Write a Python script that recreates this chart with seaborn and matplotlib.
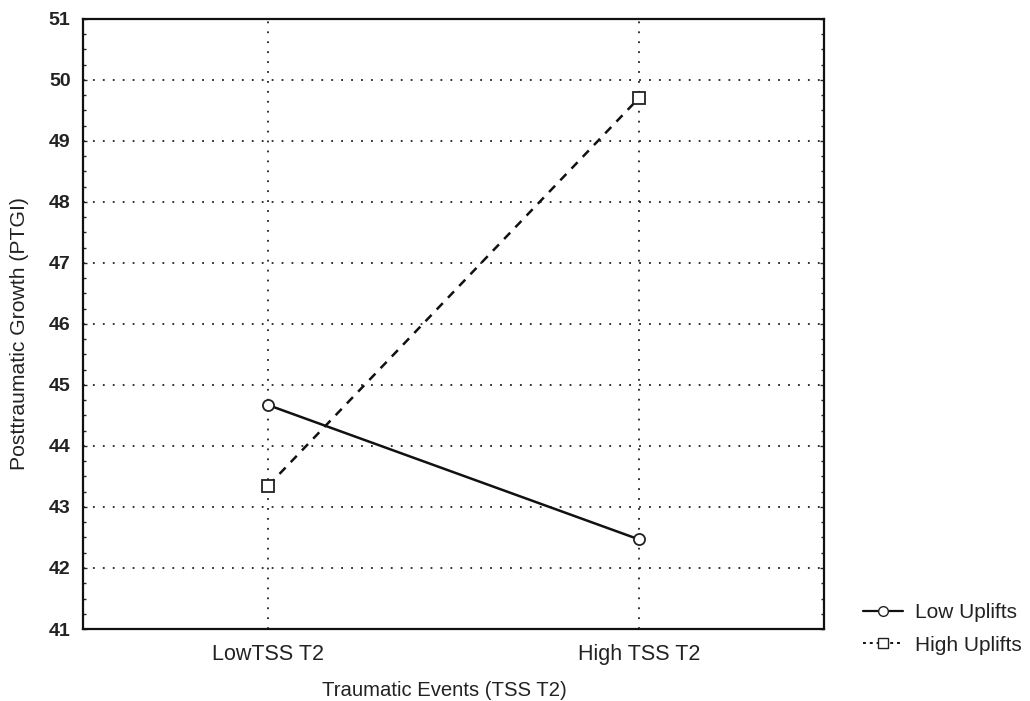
import matplotlib
matplotlib.use("Agg")
import matplotlib.pyplot as plt
import seaborn as sns
import pandas as pd
from matplotlib.ticker import MultipleLocator
from matplotlib.lines import Line2D

categories = ["LowTSS T2", "High TSS T2"]
low_uplifts = [44.67, 42.47]
high_uplifts = [43.35, 49.70]
series_names = ["Low Uplifts", "High Uplifts"]
y_ticks = list(range(41, 52))

sns.set_theme(style="white")
plt.rcParams['font.family'] = ['Liberation Sans', 'DejaVu Sans']

df = pd.DataFrame({
    "x": [0, 1, 0, 1],
    "y": low_uplifts + high_uplifts,
    "group": [series_names[0]] * 2 + [series_names[1]] * 2,
})

fig = plt.figure(figsize=(10.30, 7.01), dpi=100)
ax = fig.add_axes([0.0806, 0.1027, 0.7194, 0.8703])

sns.lineplot(data=df, x="x", y="y", style="group", ax=ax,
             markers={series_names[0]: "o", series_names[1]: "s"},
             dashes={series_names[0]: "", series_names[1]: (3.5, 3)},
             color="#111111", linewidth=1.8, markersize=8,
             markerfacecolor="white", markeredgecolor="#222222", markeredgewidth=1.3,
             legend=False)

ax.set_xlim(-0.5, 1.5)
ax.set_ylim(41, 51)
ax.set_xticks([0, 1])
ax.set_xticklabels(categories, fontsize=15.5, color="#222222")
ax.set_yticks(y_ticks)
ax.set_yticklabels([str(t) for t in y_ticks], fontsize=14, fontweight="bold", color="#222222")
ax.yaxis.set_minor_locator(MultipleLocator(0.25))
ax.tick_params(axis="y", which="major", direction="in", length=3, width=1, right=True, left=True, pad=9)
ax.tick_params(axis="y", which="minor", direction="in", length=2, width=1, right=True, left=True)
ax.tick_params(axis="x", which="major", length=0, pad=11)
ax.grid(True, which="major", linestyle=(0, (1, 4.5)), color="#222222", linewidth=1.3)
for s in ax.spines.values():
    s.set_color("#111111")
    s.set_linewidth(1.6)

ax.set_xlabel("Traumatic Events (TSS T2)", fontsize=14.6, labelpad=12, color="#222222")
ax.xaxis.set_label_coords(0.488, -0.085)
ax.set_ylabel("Posttraumatic Growth (PTGI)", fontsize=15.2, labelpad=10, color="#222222")
ax.yaxis.set_label_coords(-0.073, 0.485)

handles = [
    Line2D([], [], color="#111111", linewidth=1.6, marker="o", markersize=7,
           markerfacecolor="white", markeredgecolor="#222222"),
    Line2D([], [], color="#111111", linewidth=1.4, linestyle=(0, (1.5, 2)), marker="s", markersize=7,
           markerfacecolor="white", markeredgecolor="#222222"),
]
fig.legend(handles, series_names, loc="center left", bbox_to_anchor=(0.820, 0.103),
           frameon=False, fontsize=15, handlelength=1.9, handletextpad=0.6, labelspacing=0.65,
           labelcolor="#222222")

fig.savefig("out.png", dpi=100)
